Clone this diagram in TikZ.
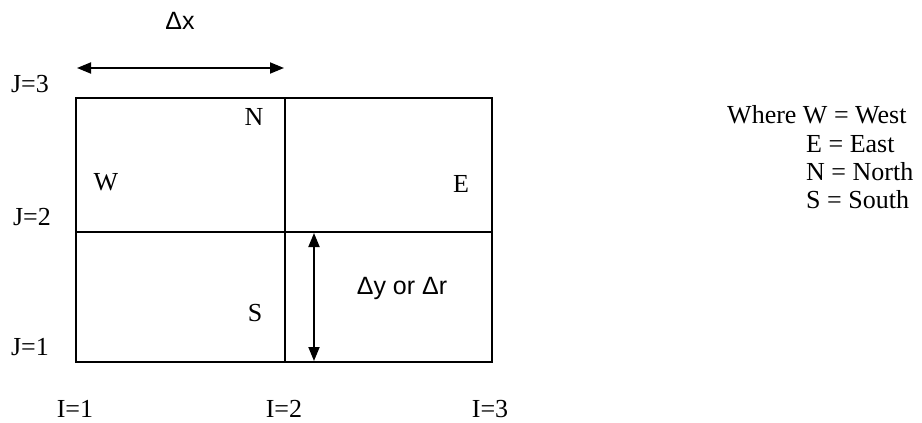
\documentclass[tikz,border=0pt]{standalone}
\usepackage{fontspec}
\setmainfont{Liberation Serif}
\newfontfamily\sansf{Liberation Sans}
\usetikzlibrary{arrows.meta}
\begin{document}
\begin{tikzpicture}[x=1pt,y=-1pt,
  lbl/.style={font=\fontsize{26}{28}\selectfont, inner sep=0pt, anchor=base},
  lgd/.style={font=\fontsize{26}{28}\selectfont, inner sep=0pt, anchor=base west},
  slbl/.style={font=\sansf\fontsize{25}{28}\selectfont, inner sep=0pt, anchor=base},
  gridline/.style={line width=1.8pt},
  dimarrow/.style={line width=1.8pt, {Triangle[length=14pt,width=11pt]}-{Triangle[length=14pt,width=11pt]}}]
\useasboundingbox (0,0) rectangle (922,423);
% grid corners
\coordinate (a1) at (76,98);  \coordinate (a2) at (285,98);  \coordinate (a3) at (492,98);
\coordinate (b1) at (76,232); \coordinate (b2) at (285,232); \coordinate (b3) at (492,232);
\coordinate (c1) at (76,362); \coordinate (c2) at (285,362); \coordinate (c3) at (492,362);
\draw[gridline] (a1) rectangle (c3);
\draw[gridline] (a2) -- (c2);
\draw[gridline] (b1) -- (b3);
% dimension arrows
\coordinate (dxl) at (77,68); \coordinate (dxr) at (284,68);
\draw[dimarrow] (dxl) -- (dxr);
\coordinate (dyt) at (314,233); \coordinate (dyb) at (314,361);
\draw[dimarrow] (dyt) -- (dyb);
\node[slbl] (dx) at (180,29) {Δx};
\node[slbl] (dy) at (402,294) {Δy or Δr};
% axis labels
\node[lbl] (j3) at (30,92) {J=3};
\node[lbl] (j2) at (32,225) {J=2};
\node[lbl] (j1) at (30,355) {J=1};
\node[lbl] (i1) at (75,417) {I=1};
\node[lbl] (i2) at (284,417) {I=2};
\node[lbl] (i3) at (490,417) {I=3};
% compass labels
\node[lbl] (nN) at (254,125) {N};
\node[lbl] (nW) at (106,190) {W};
\node[lbl] (nE) at (461,192) {E};
\node[lbl] (nS) at (255,321) {S};
% legend
\node[lgd] (l1) at (727,123) {Where W = West};
\node[lgd] (l2) at (806,152) {E = East};
\node[lgd] (l3) at (806,180) {N = North};
\node[lgd] (l4) at (806,208) {S = South};
\end{tikzpicture}
\end{document}
